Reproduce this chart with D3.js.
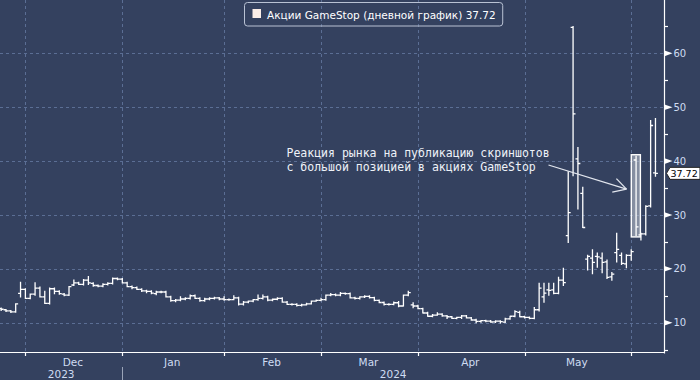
<!DOCTYPE html>
<html><head><meta charset="utf-8">
<script src="https://cdn.jsdelivr.net/npm/d3@7"></script>
<style>html,body{margin:0;padding:0;background:#34415f;}svg{display:block;}</style>
</head><body>
<svg id="c" width="700" height="380"></svg>
<script>
// ---- DATA ----
// trading days per month (categories)
const months = ["2023-11","2023-12","2024-01","2024-02","2024-03","2024-04","2024-05","2024-06"];
const monthDays = [
  [22,24,27,28,29,30],
  [1,4,5,6,7,8,11,12,13,14,15,18,19,20,21,22,26,27,28,29],
  [2,3,4,5,8,9,10,11,12,16,17,18,19,22,23,24,25,26,29,30,31],
  [1,2,5,6,7,8,9,12,13,14,15,16,20,21,22,23,26,27,28,29],
  [1,4,5,6,7,8,11,12,13,14,15,18,19,20,21,22,25,26,27,28],
  [1,2,3,4,5,8,9,10,11,12,15,16,17,18,19,22,23,24,25,26,29,30],
  [1,2,3,6,7,8,9,10,13,14,15,16,17,20,21,22,23,24,28,29,30,31],
  [3,4,5,6,7]
];
const opens = [12.6,12.4,12.2,12.0,15.45,16.2,14.5,15.3,16.4,14.8,13.6,16.3,15.8,15.3,15.1,17.0,17.4,17.1,17.9,17.3,
 16.9,16.8,17.1,17.3,18.2,18.1,17.4,16.7,16.5,16.2,15.9,15.8,15.4,15.7,15.7,14.8,14.1,14.2,14.4,14.5,
 15.0,14.5,14.1,14.4,14.5,14.6,14.4,14.3,14.3,14.6,13.45,13.8,14.0,14.3,14.5,14.8,14.2,14.35,14.5,13.8,
 13.4,13.4,13.2,13.3,13.5,14.0,14.15,14.3,15.1,15.2,15.1,15.45,15.4,14.6,14.5,14.8,14.9,14.65,14.15,13.75,
 13.4,13.4,13.7,13.1,15.1,13.3,13.1,12.6,11.8,11.2,11.4,11.6,11.25,11.1,10.8,11.0,11.25,10.9,10.5,10.25,
 10.4,10.3,10.15,10.3,10.1,10.7,11.2,11.9,11.1,11.0,10.8,12.4,14.8,16.1,16.1,15.45,17.9,26.15,64.83,40.4,
 34.0,21.8,22.0,22.3,22.0,21.3,18.5,23.0,22.5,20.9,22.5,40.2,26.3,26.5,31.7,37.8];
const highs = [12.7,12.45,12.25,13.5,17.5,16.3,15.3,17.4,16.6,15.8,16.4,16.4,15.9,15.4,16.7,17.9,17.5,18.0,18.55,17.4,
 17.0,17.2,17.4,18.3,18.3,18.2,17.5,16.8,16.6,16.3,16.0,15.9,15.8,15.8,15.8,14.9,14.3,14.8,14.6,15.1,
 15.1,14.6,14.5,14.6,14.7,14.65,14.8,14.4,15.0,14.7,13.9,14.0,14.3,15.1,15.1,14.9,14.4,14.6,14.6,13.9,
 13.5,13.5,13.4,13.6,14.0,14.2,14.5,15.1,15.4,15.3,15.6,15.5,15.5,14.7,14.8,15.0,15.0,14.7,14.2,13.8,
 13.5,13.8,13.9,15.1,15.8,13.7,13.2,12.65,11.9,11.5,11.85,11.65,11.3,11.15,11.0,11.3,11.3,10.95,10.6,10.4,
 10.45,10.4,10.35,10.35,10.8,11.2,12.2,12.1,11.2,11.05,12.8,17.3,17.3,17.3,17.3,18.4,20.1,38.0,64.95,42.5,
 35.1,22.5,23.5,22.9,22.9,21.6,19.3,26.6,22.9,22.6,23.5,40.9,26.6,31.7,47.5,47.9];
const lows = [12.3,12.1,11.9,11.95,14.8,14.5,14.45,15.1,14.8,13.6,13.5,15.4,15.3,15.0,15.05,16.9,17.1,17.0,17.1,16.8,
 16.7,16.7,17.0,17.2,18.0,17.4,16.7,16.3,16.2,15.8,15.6,15.4,15.2,15.6,14.8,14.0,13.9,14.1,14.3,14.4,
 14.5,14.0,14.0,14.3,14.4,14.3,14.2,14.2,14.3,13.3,13.3,13.7,13.9,14.2,14.4,14.1,14.1,14.3,13.8,13.4,
 13.3,13.1,13.1,13.3,13.5,14.0,14.1,14.2,15.0,15.0,15.0,15.3,14.6,14.4,14.4,14.7,14.6,14.1,13.7,13.3,
 13.3,13.35,13.0,13.1,15.0,12.8,12.6,11.8,11.2,11.1,11.4,11.2,10.8,10.8,10.75,10.8,10.9,10.45,10.0,10.1,
 10.2,10.1,10.05,9.95,10.05,10.65,11.1,11.1,10.9,10.75,10.75,12.2,13.8,15.1,15.4,15.4,16.9,24.9,37.3,31.1,
 27.7,19.8,19.1,20.3,19.3,18.2,17.9,21.3,20.8,20.2,21.6,26.2,25.35,26.3,31.5,37.2];
const closes = [12.5,12.2,12.0,13.5,16.2,14.5,15.3,16.4,14.8,13.6,16.3,15.8,15.4,15.1,16.7,17.4,17.1,17.9,17.4,16.9,
 16.8,17.1,17.3,18.2,18.1,17.4,16.7,16.5,16.2,15.9,15.8,15.5,15.7,15.7,14.8,14.1,14.2,14.4,14.5,15.0,
 14.5,14.1,14.4,14.5,14.6,14.4,14.3,14.3,14.6,13.45,13.8,14.0,14.3,14.5,14.8,14.2,14.35,14.5,13.8,13.4,
 13.4,13.2,13.3,13.5,14.0,14.15,14.3,15.1,15.2,15.1,15.45,15.4,14.6,14.5,14.8,14.9,14.65,14.15,13.75,13.4,
 13.4,13.7,13.1,15.1,15.6,13.1,12.6,11.8,11.2,11.4,11.6,11.25,11.1,10.8,11.0,11.25,10.9,10.5,10.25,10.4,
 10.3,10.13,10.3,10.2,10.7,11.2,12.05,11.1,11.0,10.8,12.4,16.4,15.5,16.0,15.45,17.9,17.45,30.45,48.75,39.55,
 27.67,22.3,21.2,22.2,21.2,18.4,19.0,23.6,21.0,22.5,23.2,27.8,26.5,31.6,46.6,37.72];
const monthLabels = ["Dec","Jan","Feb","Mar","Apr","May"];
const yearLabels = ["2023","2024"];
const yMajorTicks = [10,20,30,40,50,60];
const yMinorTicks = [5,15,25,35,45,55,65];
const lastPrice = 37.72;
const legendText = "Акции GameStop (дневной график) 37.72";
const noteLines = ["Реакция рынка на публикацию скриншотов","с большой позицией в акциях GameStop"];
const highlightIndex = 131;

// ---- BUILD ----
const dates = [];
months.forEach((m,k)=>monthDays[k].forEach(d=>dates.push(m+"-"+String(d).padStart(2,"0"))));
const data = dates.map((d,i)=>({date:d,i,o:opens[i],h:highs[i],l:lows[i],c:closes[i]}));
// index of last trading day of each month
const monthEnd = [];
dates.forEach((d,i)=>{ if(i===dates.length-1 || dates[i+1].slice(0,7)!==d.slice(0,7)) monthEnd.push(i); });

const W=700,H=380,plotR=664,plotB=352;
const BG="#34415f";
const x = d3.scaleLinear().domain([-0.237,136.76]).range([0,plotR]);
const y = d3.scaleLinear().domain([4.56,69.9]).range([plotB,0]);
const svg = d3.select("#c");
svg.append("rect").attr("width",W).attr("height",H).attr("fill",BG);

const defs = svg.append("defs");
defs.append("clipPath").attr("id","clip").append("rect").attr("x",0).attr("y",0).attr("width",plotR).attr("height",plotB);

// grid
const grid = svg.append("g").attr("stroke","#5b6e94").attr("stroke-width",1).attr("stroke-dasharray","3,3");
yMajorTicks.forEach(v=>{
  const yy=Math.round(y(v))+0.5;
  grid.append("line").attr("x1",0).attr("x2",plotR).attr("y1",yy).attr("y2",yy);
});
const tickIdx = monthEnd.slice(0,-1); // Nov..May ends
tickIdx.forEach(i=>{
  const xx=Math.round(x(i))+0.5;
  grid.append("line").attr("x1",xx).attr("x2",xx).attr("y1",0).attr("y2",plotB);
});

// highlight box (behind bar)
const hb = data[highlightIndex];
const bx0 = x(highlightIndex)-4.8, bx1 = x(highlightIndex)+4.3;
svg.append("rect").attr("x",bx0).attr("y",y(hb.h)-1.5).attr("width",bx1-bx0).attr("height",(y(hb.l)-y(hb.h))+3)
  .attr("fill","rgba(200,205,215,0.55)").attr("stroke","#ffffff").attr("stroke-width",1.4);

// OHLC bars
const bars = svg.append("g").attr("clip-path","url(#clip)").attr("stroke","#ffffff").attr("stroke-width",1.3).attr("fill","none");
const half = 2.45;
bars.selectAll("path").data(data).join("path")
  .attr("d",d=>{
    const xx=x(d.i);
    return `M${xx},${y(d.h)-0.6}V${y(d.l)+0.6}M${xx-half},${y(d.o)}H${xx}M${xx},${y(d.c)}H${xx+half}`;
  });

// axes lines
const ax = svg.append("g").attr("stroke","#ffffff").attr("stroke-width",1.2);
ax.append("line").attr("x1",0).attr("x2",plotR+0.5).attr("y1",plotB+0.5).attr("y2",plotB+0.5);
ax.append("line").attr("x1",plotR+0.5).attr("x2",plotR+0.5).attr("y1",0).attr("y2",plotB+1.5);
// bottom ticks
tickIdx.forEach(i=>{
  const xx=Math.round(x(i))+0.5;
  ax.append("line").attr("x1",xx).attr("x2",xx).attr("y1",plotB+0.5).attr("y2",plotB+4);
});
// right minor ticks
yMinorTicks.forEach(v=>{
  const yy=Math.round(y(v))+0.5;
  ax.append("line").attr("x1",plotR).attr("x2",plotR+4).attr("y1",yy).attr("y2",yy);
});
// right major ticks: triangles + labels
const labColor="#cfdcf2";
yMajorTicks.forEach(v=>{
  const yy=y(v);
  svg.append("path").attr("d",`M${plotR+0.5},${yy-2.8}L${plotR+8.5},${yy}L${plotR+0.5},${yy+2.8}Z`).attr("fill","#ffffff");
  svg.append("text").attr("x",plotR+9.5).attr("y",yy+3.6).text(v)
    .attr("font-family","DejaVu Sans").attr("font-size",10).attr("fill",labColor);
});

// month labels
for(let k=0;k<monthLabels.length;k++){
  const xm=(x(tickIdx[k])+x(tickIdx[k+1]))/2 - 1;
  svg.append("text").attr("x",xm).attr("y",365.5).attr("text-anchor","middle").text(monthLabels[k])
    .attr("font-family","DejaVu Sans").attr("font-size",10.5).attr("fill",labColor);
}
// year labels
const yearSplit = x(monthEnd[1]);
svg.append("text").attr("x",yearSplit/2).attr("y",377.5).attr("text-anchor","middle").text(yearLabels[0])
  .attr("font-family","DejaVu Sans").attr("font-size",10.5).attr("fill",labColor);
svg.append("text").attr("x",(yearSplit+plotR)/2).attr("y",377.5).attr("text-anchor","middle").text(yearLabels[1])
  .attr("font-family","DejaVu Sans").attr("font-size",10.5).attr("fill",labColor);
svg.append("line").attr("x1",Math.round(yearSplit)+0.5).attr("x2",Math.round(yearSplit)+0.5).attr("y1",367).attr("y2",380)
  .attr("stroke","#9aa4b8").attr("stroke-width",1);

// last price tag
const ly=y(lastPrice);
svg.append("path").attr("d",`M${plotR+2.5},${ly}L${plotR+6},${ly-6}L${W},${ly-6}L${W},${ly+6}L${plotR+6},${ly+6}Z`)
  .attr("fill","#ffffff").attr("stroke","#222","stroke-width",0.5);
svg.append("text").attr("x",plotR+6.5).attr("y",ly+3.5).text(lastPrice.toFixed(2))
  .attr("font-family","DejaVu Sans").attr("font-size",9.5).attr("fill","#000");

// legend
const lg = svg.append("g");
const lt = lg.append("text").attr("x",267).attr("y",19.3).text(legendText)
  .attr("font-family","DejaVu Sans").attr("font-size",10.5).attr("fill","#ffffff");
const tw = lt.node().getComputedTextLength();
lg.insert("rect","text").attr("x",244.5).attr("y",2.5).attr("width",267+tw+7-244.5).attr("height",23.5).attr("rx",3)
  .attr("fill","none").attr("stroke","#b9c2d4").attr("stroke-width",1);
lg.append("rect").attr("x",252.5).attr("y",9).attr("width",8.5).attr("height",9).attr("fill","#fbeee8");

// annotation
noteLines.forEach((t,k)=>{
  svg.append("text").attr("x",286.5).attr("y",157+k*14).text(t)
    .attr("font-family","DejaVu Sans Mono").attr("font-size",11.5).attr("fill","#eef2f8");
});
const sx=548.5, sy=165, tx=bx0-4.8, ty=y(34.8);
const ang=Math.atan2(ty-sy,tx-sx);
const arr = svg.append("g").attr("stroke","#e2e6ee").attr("stroke-width",1.3).attr("fill","none");
arr.append("line").attr("x1",sx).attr("y1",sy).attr("x2",tx).attr("y2",ty);
[Math.PI*0.84, -Math.PI*0.84].forEach(a=>{
  arr.append("line").attr("x1",tx).attr("y1",ty)
    .attr("x2",tx+14.5*Math.cos(ang+a)).attr("y2",ty+14.5*Math.sin(ang+a));
});
</script>
</body></html>
